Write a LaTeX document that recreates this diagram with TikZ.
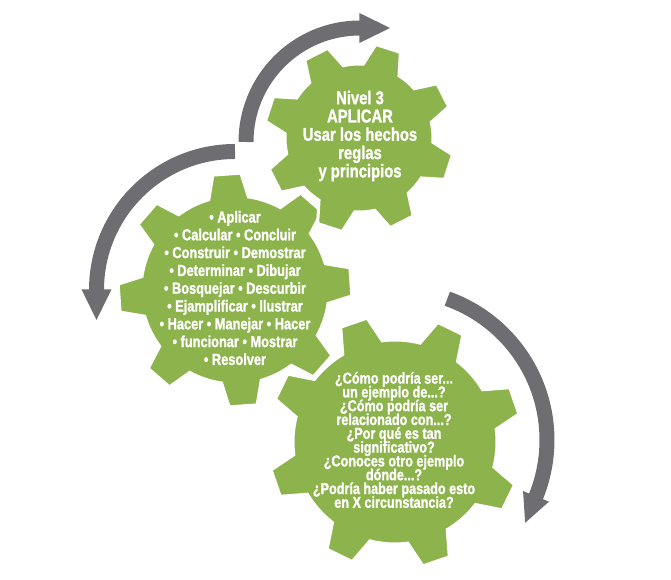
\documentclass[tikz,border=0pt]{standalone}
\usepackage{fontspec}
\newfontfamily\gearfont[FakeStretch=0.8, FakeBold=1.2, UprightFont={* Bold}]{Liberation Sans}
\definecolor{geargreen}{RGB}{141,179,76}
\definecolor{arrowgray}{RGB}{110,110,114}
\lineskiplimit=-30pt\relax
\tikzset{
  gearbody/.style={fill=geargreen, draw=white, line width=3pt, line join=miter},
  arrowband/.style={draw=arrowgray, line width=15pt},
  arrowhead/.style={fill=arrowgray},
  geartext/.style={text=white, align=center, inner sep=0pt},
}
% #1 x, #2 y, #3 teeth, #4 phase, #5 root r, #6 tip R, #7 base half angle, #8 tip half angle
\newcommand\drawgear[8]{%
  \pgfmathsetmacro\gearstep{360/#3}%
  \path[gearbody, shift={(#1,#2)}] ({#4-#7}:#5)
    \foreach \k in {1,...,#3}{
      -- ({#4+(\k-1)*\gearstep-#8}:#6) -- ({#4+(\k-1)*\gearstep+#8}:#6)
      -- ({#4+(\k-1)*\gearstep+#7}:#5)
      arc[start angle={#4+(\k-1)*\gearstep+#7}, end angle={#4+\k*\gearstep-#7}, radius=#5]
    } -- cycle;
}
\begin{document}
\begin{tikzpicture}[x=1pt,y=1pt]
\useasboundingbox (0,0) rectangle (671,580);
% gears
\drawgear{235}{290}{8}{4}{94}{117}{12.2}{6.9}
\drawgear{359}{442}{8}{27}{74}{95}{14.7}{7.8}
\drawgear{395}{138}{8}{19}{102}{127}{11.8}{6.3}
% arrows
\coordinate (c1) at (360,438);
\coordinate (c2) at (235,290);
\coordinate (c3) at (397,140);
\draw[arrowband] ([shift={(180:114)}]c1) arc[start angle=180, end angle=90, radius=114];
\begin{scope}[shift={(c1)}, rotate=90]
  \fill[arrowhead] (99,0.6) -- (129,0.6) -- (114,-30) -- cycle;
\end{scope}
\draw[arrowband] ([shift={(90:138.5)}]c2) arc[start angle=90, end angle=180, radius=138.5];
\begin{scope}[shift={(c2)}, rotate=180]
  \fill[arrowhead] (123.5,-0.6) -- (153.5,-0.6) -- (138.5,30) -- cycle;
\end{scope}
\draw[arrowband] ([shift={(70.4:150)}]c3) arc[start angle=70.4, end angle=-22.3, radius=150];
\begin{scope}[shift={(c3)}, rotate=-22.3]
  \fill[arrowhead] (136,0.6) -- (164,0.6) -- (150,-28) -- cycle;
\end{scope}
% texts
\node[geartext, font=\gearfont\fontsize{18.5}{18.3}\selectfont] (t1) at (360,444)
  {Nivel 3\\APLICAR\\Usar los hechos\\reglas\\y principios};
\node[geartext, font=\gearfont\fontsize{16}{17.8}\selectfont] (t2) at (235,292)
  {• Aplicar\\• Calcular • Concluir\\• Construir • Demostrar\\• Determinar • Dibujar\\• Bosquejar • Descurbir\\• Ejamplificar • Ilustrar\\• Hacer • Manejar • Hacer\\• funcionar • Mostrar\\• Resolver};
\node[geartext, font=\gearfont\fontsize{15.8}{13.8}\selectfont] (t3) at (394,140)
  {¿Cómo podría ser...\\un ejemplo de...?\\¿Cómo podría ser\\relacionado con...?\\¿Por qué es tan\\significativo?\\¿Conoces otro ejemplo\\dónde...?\\¿Podría haber pasado esto\\en X circunstancia?};
\end{tikzpicture}
\end{document}
